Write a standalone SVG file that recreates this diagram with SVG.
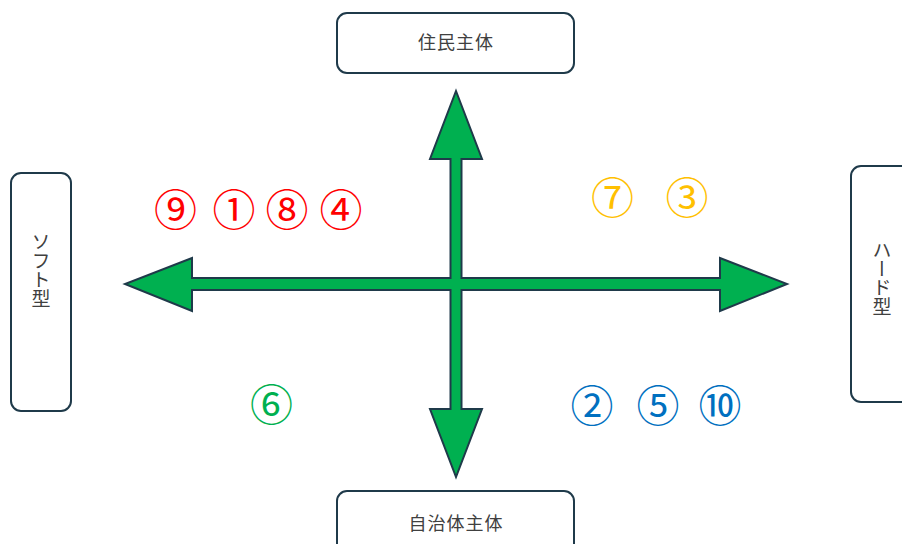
<svg xmlns="http://www.w3.org/2000/svg" width="902" height="544" viewBox="0 0 902 544">
<style>
.box{fill:#ffffff;stroke:#1f3a4a;stroke-width:2}
.lbl{font-family:"Noto Sans CJK JP","Noto Sans",sans-serif;font-size:18px;fill:#404040;text-anchor:middle}
.vlbl{font-family:"Noto Sans CJK JP","Noto Sans",sans-serif;font-size:19px;fill:#404040;writing-mode:vertical-rl;text-anchor:middle}
.num{font-family:"Noto Sans CJK JP","Noto Sans",sans-serif;font-size:43px;text-anchor:middle;dominant-baseline:central}
.red{fill:#ff0000}.yel{fill:#ffc000}.grn{fill:#00b050}.blu{fill:#0070c0}
.arrow{fill:#00b050;stroke:#1f3a4a;stroke-width:2;stroke-linejoin:miter}
</style>
<rect width="902" height="544" fill="#ffffff"/>
<g id="connectors">
<path class="arrow" d="M456,91 L482,159 L461.5,159 L461.5,278 L720,278 L720,258 L787,284 L720,311 L720,290 L461.5,290 L461.5,409 L482,409 L456,477 L430,409 L450.5,409 L450.5,290 L192,290 L192,311 L125,284 L192,258 L192,278 L450.5,278 L450.5,159 L430,159 Z"/>
</g>
<g id="top">
<rect class="box" x="337" y="13" width="237" height="60" rx="10"/>
<text class="lbl" x="456" y="49" letter-spacing="1">住民主体</text>
</g>
<g id="bottom">
<rect class="box" x="337" y="491" width="237" height="70" rx="10"/>
<text class="lbl" x="456" y="530" letter-spacing="1">自治体主体</text>
</g>
<g id="left">
<rect class="box" x="11" y="173" width="60" height="238" rx="10"/>
<text class="vlbl" x="41" y="270">ソフト型</text>
</g>
<g id="right">
<rect class="box" x="851" y="166" width="70" height="236" rx="10"/>
<text class="vlbl" x="882" y="278">ハード型</text>
</g>
<g id="numbers">
<text class="num red" x="175.5" y="207">⑨</text>
<text class="num red" x="234" y="207">①</text>
<text class="num red" x="287" y="207">⑧</text>
<text class="num red" x="341" y="207">④</text>
<text class="num yel" x="612.5" y="195">⑦</text>
<text class="num yel" x="687" y="195">③</text>
<text class="num grn" x="271.5" y="401.5">⑥</text>
<text class="num blu" x="592" y="402.5">②</text>
<text class="num blu" x="658" y="402.5">⑤</text>
<text class="num blu" x="720" y="402.5">⑩</text>
</g>
</svg>
